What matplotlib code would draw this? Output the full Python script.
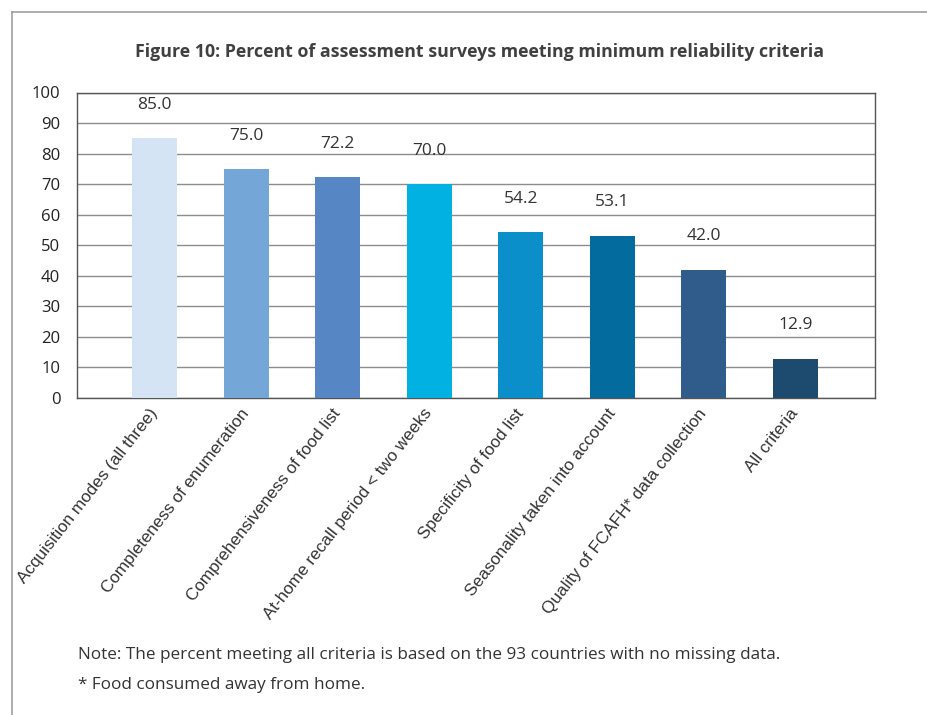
import matplotlib
matplotlib.use('Agg')
import matplotlib.pyplot as plt
from matplotlib.lines import Line2D

# chart data
categories = ['Acquisition modes (all three)', 'Completeness of enumeration',
              'Comprehensiveness of food list', 'At-home recall period < two weeks',
              'Specificity of food list', 'Seasonality taken into account',
              'Quality of FCAFH* data collection', 'All criteria']
values = [85.0, 75.0, 72.2, 70.0, 54.2, 53.1, 42.0, 12.9]
value_labels = ['85.0', '75.0', '72.2', '70.0', '54.2', '53.1', '42.0', '12.9']
yticks = [0, 10, 20, 30, 40, 50, 60, 70, 80, 90, 100]

bar_colors = ['#D4E4F4', '#74A7D8', '#5686C4', '#00B1E1',
              '#0A8FCB', '#046B9E', '#305C8C', '#1D4A6F']

title = 'Figure 10: Percent of assessment surveys meeting minimum reliability criteria'
note1 = 'Note: The percent meeting all criteria is based on the 93 countries with no missing data.'
note2 = '* Food consumed away from home.'

W, H = 927, 715
fig = plt.figure(figsize=(W / 100, H / 100), dpi=100)

# outer frame (left and top edges visible)
fig.add_artist(Line2D([12 / W, 12 / W], [0, 1 - 12 / H], transform=fig.transFigure,
                      color='#A0A0A0', lw=1.2))
fig.add_artist(Line2D([12 / W, 1], [1 - 12 / H, 1 - 12 / H], transform=fig.transFigure,
                      color='#A0A0A0', lw=1.2))

left, right, top, bottom = 77, 875, 92.5, 398
ax = fig.add_axes([left / W, 1 - bottom / H, (right - left) / W, (bottom - top) / H])

x = range(len(categories))
bars = ax.bar(x, values, width=0.49, color=bar_colors, zorder=3)

for b, lab in zip(bars, value_labels):
    ax.annotate(lab, (b.get_x() + b.get_width() / 2, b.get_height()),
                xytext=(0, 24), textcoords='offset points', ha='center', va='center',
                fontsize=12.5, color='#333333', family='Open Sans', zorder=4)

ax.set_xlim(-0.85, len(categories) - 1 + 0.87)
ax.set_ylim(0, 100)
ax.set_yticks(yticks)
ax.set_yticklabels([str(t) for t in yticks], fontsize=12, family='Open Sans', color='#222222')
ax.yaxis.grid(True, color='#8C8C8C', lw=1, zorder=0)
ax.tick_params(axis='y', length=0, pad=12)
ax.tick_params(axis='x', length=0, pad=9)
ax.set_xticks(list(x))
ax.set_xticklabels(categories, rotation=52, ha='right', va='center', rotation_mode='anchor',
                   fontsize=12.3, family='Liberation Sans', color='#333333')
for s in ax.spines.values():
    s.set_color('#555555')
    s.set_linewidth(1)

fig.text(479 / W, 1 - 52 / H, title, ha='center', va='center', fontsize=12.8,
         fontweight='bold', family='Open Sans', color='#404040')
fig.text(78 / W, 1 - 655 / H, note1, ha='left', va='center', fontsize=12.3,
         family='Open Sans', color='#333333')
fig.text(78 / W, 1 - 685 / H, note2, ha='left', va='center', fontsize=12.3,
         family='Open Sans', color='#333333')

fig.savefig('out.png', dpi=100)
